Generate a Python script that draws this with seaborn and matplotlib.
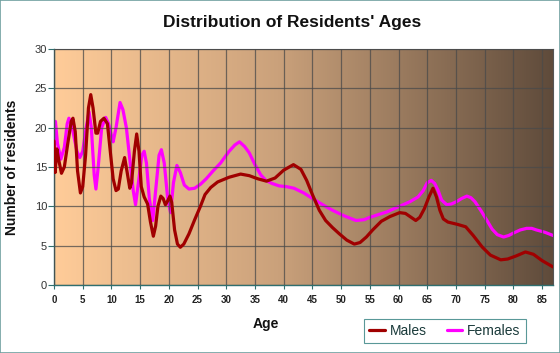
import numpy as np
import pandas as pd
import seaborn as sns
import matplotlib
matplotlib.use('Agg')
import matplotlib.pyplot as plt
from matplotlib.colors import LinearSegmentedColormap
from matplotlib.ticker import MultipleLocator

# values
male_age = [0, 0.2, 0.5, 0.8, 1.3, 1.8, 2.4, 3.0, 3.3, 3.7, 4.1, 4.6, 5.0, 5.5, 6.0, 6.4,
            6.8, 7.3, 7.6, 8.1, 8.7, 9.3, 9.8, 10.3, 10.8, 11.2, 11.7, 12.3, 12.7, 13.2,
            13.5, 14.0, 14.4, 14.8, 15.2, 15.7, 16.3, 16.8, 17.3, 17.7, 18.1, 18.6, 19.0,
            19.4, 19.8, 20.2, 20.5, 21.0, 21.5, 22.0, 22.6, 23.5, 24.5, 25.5, 26.3, 27.3,
            28.5, 30.5, 32.5, 34, 35.5, 37, 38.5, 40, 41.7, 43, 44, 45, 46.2, 47.3, 48.5,
            49.7, 51, 52.3, 53.3, 54.4, 55.5, 57, 58.5, 60.2, 61.2, 62.2, 63, 63.7, 64.5,
            65.3, 66, 66.6, 67.2, 67.8, 68.6, 70.3, 71.7, 73, 74.6, 76, 77.8, 79, 80.5,
            82.1, 83.5, 85, 86.9]
male_count = [18.3, 14.3, 17.3, 16, 14.2, 15, 18, 20.8, 21.2, 19.5, 14.5, 11.7, 12.5, 16.5,
              22.5, 24.2, 22.5, 19.3, 19.3, 20.8, 21.2, 20.5, 17, 13.5, 12, 12.2, 14.5, 16.2,
              14.5, 12.3, 13, 17, 19.2, 17, 12.5, 11.2, 10.3, 8, 6.2, 7.5, 10, 11.3, 11,
              10.2, 10.7, 11.3, 10.5, 7, 5.2, 4.8, 5.2, 6.5, 8.3, 10, 11.5, 12.4, 13.1, 13.7,
              14.1, 13.9, 13.5, 13.2, 13.6, 14.6, 15.3, 14.7, 13.3, 11.5, 9.5, 8.2, 7.3, 6.5,
              5.7, 5.2, 5.4, 6.1, 7, 8.1, 8.7, 9.2, 9.1, 8.6, 8.2, 8.6, 9.7, 11.2, 12.3, 11.2,
              9.5, 8.4, 8, 7.7, 7.4, 6.3, 4.8, 3.8, 3.2, 3.3, 3.7, 4.2, 3.9, 3.1, 2.3]

female_age = [0, 0.25, 0.6, 1.2, 1.8, 2.3, 2.6, 3.0, 3.3, 4.0, 4.5, 5.0, 5.6, 6.1, 6.5, 7.0,
              7.3, 7.7, 8.3, 9.0, 9.5, 10.0, 10.3, 10.8, 11.5, 12.0, 12.6, 13.2, 13.8, 14.2,
              14.7, 15.3, 15.7, 16.1, 16.6, 17.2, 17.7, 18.3, 18.7, 19.2, 19.8, 20.3, 20.8,
              21.4, 22.0, 22.7, 23.5, 24.5, 25.5, 26.5, 27.7, 29, 30.5, 31.5, 32.3, 33.2, 34,
              35, 36, 36.9, 38, 39.2, 40.5, 41.8, 43.5, 45, 46.8, 48.5, 50.5, 52.6, 54, 55,
              56.7, 58, 59.5, 60.8, 62, 63.4, 64.3, 65, 65.7, 66.3, 66.9, 67.5, 68.4, 69.2,
              70.1, 71, 71.9, 72.6, 73.3, 74.4, 75.4, 76.3, 77.2, 78.3, 79.2, 80, 81.2, 82.3,
              83.2, 84, 85.5, 86.9]
female_count = [17, 20.8, 18, 16, 17.5, 20.5, 21.2, 20.5, 19.5, 17, 16.2, 17, 20, 22, 20, 14,
                12.2, 15, 20, 21.3, 20.5, 19, 18.2, 20, 23.2, 22.3, 20, 16, 12, 10.2, 13, 16.5,
                17, 15.5, 11, 8.2, 12, 16.5, 17.2, 15.5, 11, 9.2, 13, 15.2, 14.3, 12.7, 12.2,
                12.3, 12.8, 13.5, 14.5, 15.5, 17, 17.8, 18.2, 17.6, 16.8, 15.3, 14, 13.3, 12.9,
                12.6, 12.5, 12.3, 11.7, 11, 10.2, 9.5, 8.8, 8.2, 8.3, 8.6, 9, 9.3, 9.8, 10.2,
                10.6, 11.2, 12, 13, 13.3, 12.9, 12, 10.8, 10.2, 10.3, 10.6, 11, 11.3, 11.1,
                10.6, 9.4, 8.2, 7.1, 6.4, 6.1, 6.3, 6.6, 7, 7.2, 7.2, 7, 6.7, 6.3]

x_ticks = list(range(0, 90, 5))
y_ticks = list(range(0, 35, 5))

males = pd.DataFrame({'Age': male_age, 'Residents': male_count})
females = pd.DataFrame({'Age': female_age, 'Residents': female_count})

sns.set_style('white')
plt.rcParams['font.family'] = ['Liberation Sans', 'DejaVu Sans']

fig = plt.figure(figsize=(5.6, 3.53), dpi=100)
ax = fig.add_axes([54 / 560, 1 - 285 / 353, (553 - 54) / 560, (285 - 49) / 353])

x_max = 86.9
# background gradient, peach to dark brown
cmap = LinearSegmentedColormap.from_list(
    'bg', [(0, '#ffcc99'), (0.45, '#caa17b'), (1, '#5f4b3b')])
ax.imshow(np.linspace(0, 1, 256).reshape(1, -1), cmap=cmap, aspect='auto',
          extent=[0, x_max, 0, 30], zorder=0)

sns.lineplot(data=males, x='Age', y='Residents', color='#a00000', lw=2.3,
             label='Males', ax=ax, sort=False, zorder=3)
sns.lineplot(data=females, x='Age', y='Residents', color='#ff00ff', lw=2.3,
             label='Females', ax=ax, sort=False, zorder=2)

ax.set_xlim(0, x_max)
ax.set_ylim(0, 30)
ax.set_xticks(x_ticks)
ax.set_yticks(y_ticks)
ax.xaxis.set_minor_locator(MultipleLocator(1))
ax.grid(True, color='#4a4a4a', lw=0.9, alpha=0.75)
ax.set_axisbelow(False)
for gl in ax.get_xgridlines() + ax.get_ygridlines():
    gl.set_zorder(1)

ax.tick_params(axis='x', which='both', direction='out', length=3, width=0.8,
               color='#2f6f6f', labelsize=7, pad=4)
ax.tick_params(axis='y', which='major', direction='out', length=4, width=0.8,
               color='#2f6f6f', labelsize=8, labelcolor='#333333', pad=1)
ax.tick_params(axis='x', which='minor', labelbottom=False)
ax.tick_params(axis='x', which='major', bottom=True)
ax.tick_params(axis='y', left=True)
for lab in ax.get_xticklabels():
    lab.set_fontweight('bold')
    lab.set_color('#222222')
for side in ['left', 'bottom']:
    ax.spines[side].set_color('#2f6f6f')
    ax.spines[side].set_linewidth(1)
for side in ['top', 'right']:
    ax.spines[side].set_color('#555555')
    ax.spines[side].set_linewidth(0.8)

ax.set_xlabel('')
ax.set_ylabel('')
fig.text(292 / 560, 1 - 23 / 353, "Distribution of Residents' Ages", ha='center',
         va='center', fontsize=12.5, fontweight='bold', color='#111111')
fig.text(12 / 560, 1 - 167 / 353, 'Number of residents', rotation=90, ha='center',
         va='center', fontsize=10, fontweight='bold', color='#111111')
fig.text(266 / 560, 1 - 324 / 353, 'Age', ha='center', va='center', fontsize=10,
         fontweight='bold', color='#111111')

ax.get_legend().remove()
handles, labels = ax.get_legend_handles_labels()
leg = fig.legend(handles, labels, loc='center', ncol=2,
                 bbox_to_anchor=(445 / 560, 1 - 331 / 353), frameon=True,
                 fontsize=10, handlelength=1.1, handletextpad=0.4, columnspacing=1.4,
                 borderpad=0.35, fancybox=False, labelcolor='#1a3a3a')
leg.get_frame().set_edgecolor('#2f7f7f')
leg.get_frame().set_linewidth(0.8)

fig.patches.append(plt.Rectangle((0, 0), 1, 1, transform=fig.transFigure, fill=False,
                                 edgecolor='#6f9f9f', lw=1.2))

fig.savefig('out.png', dpi=100)
